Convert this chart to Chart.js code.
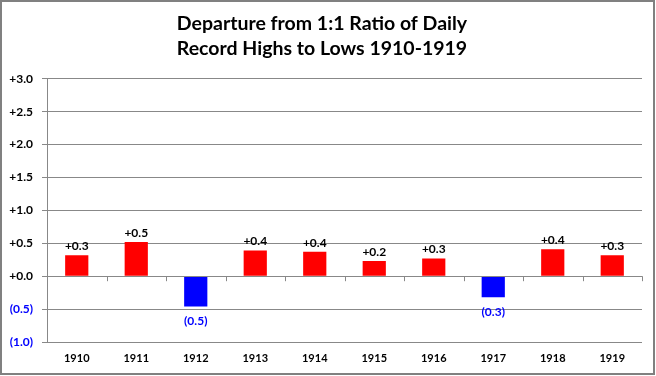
<!DOCTYPE html>
<html>
<head>
<meta charset="utf-8">
<script src="https://cdn.jsdelivr.net/npm/chart.js@4/dist/chart.umd.min.js"></script>
<style>
html,body{margin:0;padding:0;background:#fff;}
#wrap{width:656px;height:376px;position:relative;}
</style>
</head>
<body>
<div id="wrap"><canvas id="c" width="656" height="376"></canvas></div>
<script>
const years = ['1910','1911','1912','1913','1914','1915','1916','1917','1918','1919'];
const departure = [0.32, 0.52, -0.46, 0.39, 0.37, 0.23, 0.27, -0.32, 0.41, 0.32];
const valueLabels = ['+0.3','+0.5','(0.5)','+0.4','+0.4','+0.2','+0.3','(0.3)','+0.4','+0.3'];
const yTickLabels = {'3':'+3.0','2.5':'+2.5','2':'+2.0','1.5':'+1.5','1':'+1.0','0.5':'+0.5','0':'+0.0','-0.5':'(0.5)','-1':'(1.0)'};
const titleLines = ['Departure from 1:1 Ratio of Daily','Record Highs to Lows 1910-1919'];

const FONT = 'Lato, "Open Sans", sans-serif';

const borderPlugin = {
  id: 'outerBorder',
  afterDraw(chart) {
    const ctx = chart.ctx;
    ctx.save();
    ctx.strokeStyle = '#808080';
    ctx.lineWidth = 2;
    ctx.strokeRect(1, 1, 653, 373);
    ctx.restore();
  }
};

const zeroTicksPlugin = {
  id: 'zeroTicks',
  afterDatasetsDraw(chart) {
    const ctx = chart.ctx;
    const x = chart.scales.x, y = chart.scales.y;
    const y0 = y.getPixelForValue(0);
    ctx.save();
    ctx.strokeStyle = '#888';
    ctx.lineWidth = 1;
    ctx.beginPath();
    ctx.moveTo(x.left, Math.round(y0) + 0.5);
    ctx.lineTo(x.right, Math.round(y0) + 0.5);
    for (let i = 0; i <= years.length; i++) {
      const px = Math.round(x.left + (x.right - x.left) * i / years.length) + 0.5;
      ctx.moveTo(px, y0);
      ctx.lineTo(px, y0 + 5);
    }
    ctx.stroke();
    ctx.restore();
  }
};

const labelPlugin = {
  id: 'valueLabels',
  afterDatasetsDraw(chart) {
    const ctx = chart.ctx;
    const meta = chart.getDatasetMeta(0);
    ctx.save();
    ctx.font = 'bold 12px ' + FONT;
    ctx.textAlign = 'center';
    meta.data.forEach((bar, i) => {
      const v = departure[i];
      if (v >= 0) {
        ctx.fillStyle = '#000';
        ctx.textBaseline = 'bottom';
        ctx.fillText(valueLabels[i], bar.x, bar.y - 3);
      } else {
        ctx.fillStyle = '#0000ff';
        ctx.textBaseline = 'top';
        ctx.fillText(valueLabels[i], bar.x, bar.y + 9);
      }
    });
    ctx.restore();
  }
};

new Chart(document.getElementById('c'), {
  type: 'bar',
  data: {
    labels: years,
    datasets: [{
      data: departure,
      backgroundColor: departure.map(v => v >= 0 ? '#ff0000' : '#0000ff'),
      borderWidth: 0,
      barPercentage: 0.39,
      categoryPercentage: 1.0
    }]
  },
  options: {
    responsive: false,
    animation: false,
    devicePixelRatio: 1,
    layout: { padding: { left: 2, right: 14, top: 6, bottom: 2 } },
    plugins: {
      legend: { display: false },
      tooltip: { enabled: false },
      title: {
        display: true,
        text: titleLines,
        color: '#000',
        font: { family: FONT, size: 19.5, weight: 'bold', lineHeight: 1.25 },
        padding: { top: 6, bottom: 18 }
      }
    },
    scales: {
      x: {
        grid: { display: false, drawTicks: false },
        border: { display: false },
        ticks: { color: '#000', font: { family: FONT, size: 11, weight: 'bold' }, padding: 10, maxRotation: 0 },
        afterFit(scale) { scale.height = 32; }
      },
      y: {
        min: -1, max: 3,
        grid: { color: '#888', lineWidth: 1, tickLength: 5, drawTicks: true, tickColor: '#888' },
        border: { display: true, color: '#888', width: 1 },
        ticks: {
          stepSize: 0.5,
          padding: 9,
          font: { family: FONT, size: 12, weight: 'bold' },
          color: ctx => ctx.tick.value < 0 ? '#0000ff' : '#000',
          callback: v => yTickLabels[String(v)] || ''
        },
        afterFit(scale) { scale.width = 45; }
      }
    }
  },
  plugins: [borderPlugin, zeroTicksPlugin, labelPlugin]
});
</script>
</body>
</html>
